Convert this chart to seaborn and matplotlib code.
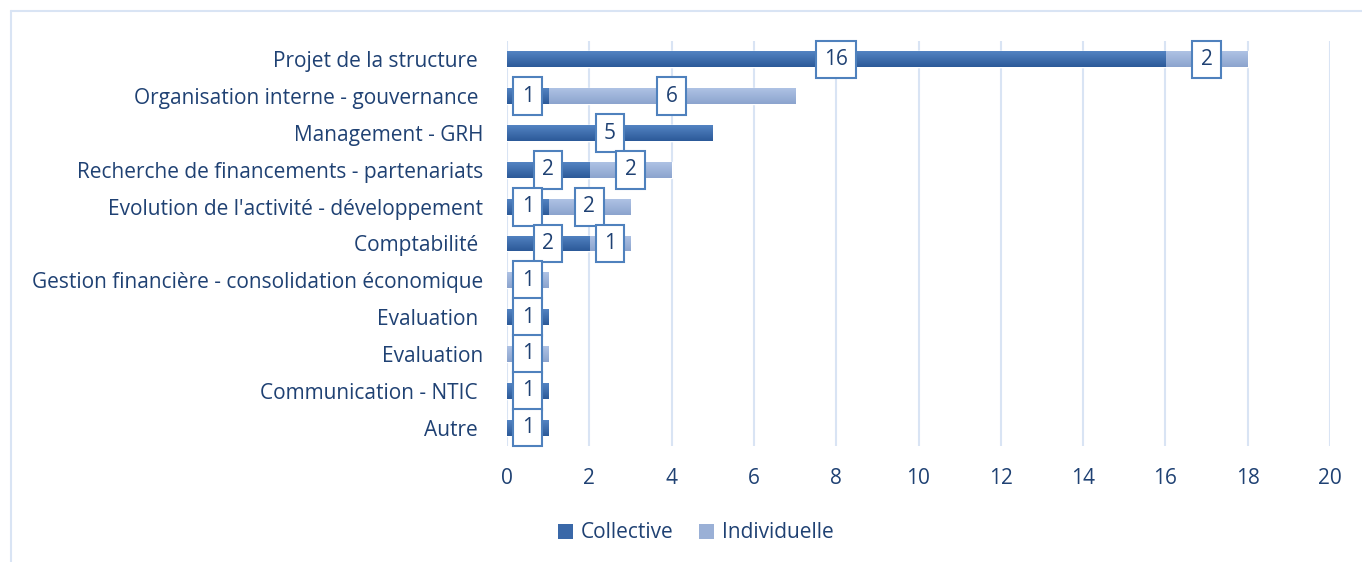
import numpy as np
import pandas as pd
import matplotlib
matplotlib.use("Agg")
import matplotlib.pyplot as plt
from matplotlib.patches import Patch
from matplotlib.lines import Line2D
import seaborn as sns

# Données
categories = [
    "Projet de la structure ",
    "Organisation interne - gouvernance ",
    "Management - GRH",
    "Recherche de financements - partenariats",
    "Evolution de l'activité - développement",
    "Comptabilité ",
    "Gestion financière - consolidation économique",
    "Evaluation ",
    "Evaluation",
    "Communication - NTIC ",
    "Autre ",
]
collective = [16, 1, 5, 2, 1, 2, 0, 1, 0, 1, 1]
individuelle = [2, 6, 0, 2, 2, 1, 1, 0, 1, 0, 0]
x_ticks = list(range(0, 21, 2))
series_names = ["Collective", "Individuelle"]

df = pd.DataFrame({
    "row": range(len(categories)),
    "collective": collective,
    "individuelle": individuelle,
})
df["total"] = df["collective"] + df["individuelle"]

# Couleurs
dark = "#3A68A8"
light = "#9AB0D6"
dark_grad = ("#5383C2", "#2C5A99")
light_grad = ("#AEC2E4", "#8CA4CE")
text_col = "#1F4173"
box_edge = "#4F81BD"
grid_col = "#D9E4F4"
fs = 15

sns.set_style("white")
plt.rcParams["font.family"] = ["Open Sans", "DejaVu Sans"]

fig, ax = plt.subplots(figsize=(13.62, 5.62), dpi=100)
fig.subplots_adjust(left=507 / 1362, right=1330 / 1362,
                    top=1 - 41 / 562, bottom=1 - 446 / 562)

# Barres empilées : total (clair) puis collective (foncé) par-dessus
sns.barplot(data=df, x="total", y="row", orient="h", color=light,
            saturation=1, width=0.43, ax=ax, zorder=2)
sns.barplot(data=df, x="collective", y="row", orient="h", color=dark,
            saturation=1, width=0.43, ax=ax, zorder=2)

ax.set_xlim(0, 20)
ax.set_ylim(10.5, -0.5)

# Dégradé vertical dans chaque barre
n = len(categories)
for k, p in enumerate(ax.patches[:2 * n]):
    w = p.get_width()
    if w <= 0:
        continue
    top_c, bot_c = light_grad if k < n else dark_grad
    c1 = np.array(matplotlib.colors.to_rgb(top_c))
    c2 = np.array(matplotlib.colors.to_rgb(bot_c))
    t = np.linspace(0, 1, 32)[:, None]
    grad = (c1 * (1 - t) + c2 * t)[:, None, :]
    y0 = p.get_y()
    y1 = y0 + p.get_height()
    im = ax.imshow(grad, extent=(p.get_x(), p.get_x() + w, y1, y0),
                   origin="upper", aspect="auto", zorder=2.5)
    im.set_clip_path(p)

ax.set_xlim(0, 20)
ax.set_ylim(10.5, -0.5)

# Etiquettes encadrées
for i in range(n):
    c = collective[i]
    ind = individuelle[i]
    if c > 0:
        ax.text(c / 2, i, str(c), ha="center", va="center", fontsize=fs,
                color=text_col, zorder=5,
                bbox=dict(boxstyle="square,pad=0.4", fc="white",
                          ec=box_edge, lw=1.5))
    if ind > 0:
        ax.text(c + ind / 2, i, str(ind), ha="center", va="center",
                fontsize=fs, color=text_col, zorder=5,
                bbox=dict(boxstyle="square,pad=0.4", fc="white",
                          ec=box_edge, lw=1.5))

ax.set_xticks(x_ticks)
ax.set_yticks(range(n), labels=categories)
ax.tick_params(axis="both", length=0, labelsize=fs, labelcolor=text_col)
ax.tick_params(axis="x", pad=16)
ax.tick_params(axis="y", pad=17)
ax.xaxis.grid(True, color=grid_col, lw=1.5)
ax.set_axisbelow(True)
ax.set_xlabel("")
ax.set_ylabel("")
sns.despine(ax=ax, left=True, bottom=True)

# Cadre de la zone de graphique
fx = 11 / 1362
fy = 1 - 11 / 562
fig.add_artist(Line2D([fx, 1], [fy, fy], color=grid_col, lw=1.5))
fig.add_artist(Line2D([fx, fx], [0, fy], color=grid_col, lw=1.5))

handles = [Patch(facecolor=dark, edgecolor="none"),
           Patch(facecolor=light, edgecolor="none")]
fig.legend(handles, series_names, loc="center",
           bbox_to_anchor=(696 / 1362, 1 - 533 / 562), ncol=2, frameon=False,
           handlelength=0.7, handleheight=0.7, handletextpad=0.4,
           columnspacing=1.2, fontsize=fs, labelcolor=text_col)

fig.savefig("out.png", dpi=100)
